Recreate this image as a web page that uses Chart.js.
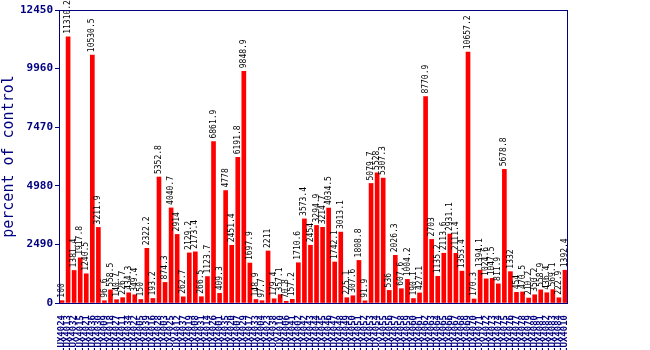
<!DOCTYPE html>
<html>
<head>
<meta charset="utf-8">
<script src="https://cdn.jsdelivr.net/npm/chart.js@4"></script>
<style>
  body { margin: 0; background: #fff; }
</style>
</head>
<body>
<canvas id="controlChart" width="650" height="350"></canvas>
<script>
// data
const sampleLabels = [
  "LUX4024","LUX4013","LUX4032","LUX4015","LUX4021","LUX4036","LUX4030","LUX4009",
  "LUX4018","LUX4027","LUX4011","LUX4034","LUX4022","LUX4005","LUX4039","LUX4016",
  "LUX4028","LUX4003","LUX4025","LUX4012","LUX4037","LUX4019","LUX4008","LUX4031",
  "LUX4014","LUX4026","LUX4001","LUX4035","LUX4020","LUX4007","LUX4029","LUX4017",
  "LUX4033","LUX4004","LUX4023","LUX4038","LUX4010","LUX4006","LUX4041","LUX4002",
  "LUX4042","LUX4043","LUX4044","LUX4045","LUX4046","LUX4047","LUX4048","LUX4049",
  "LUX4050","LUX4051","LUX4052","LUX4053","LUX4054","LUX4055","LUX4056","LUX4057",
  "LUX4058","LUX4059","LUX4060","LUX4061","LUX4062","LUX4063","LUX4064","LUX4065",
  "LUX4066","LUX4067","LUX4068","LUX4069","LUX4070","LUX4071","LUX4072","LUX4073",
  "LUX4074","LUX4075","LUX4076","LUX4077","LUX4078","LUX4079","LUX4080","LUX4081",
  "LUX4082","LUX4083","LUX4084","LUX4010"
];

const percentValues = [
  100, 11310.2, 1381.4, 1917.8, 1240.5, 10530.5, 3211.9, 96.6,
  558.5, 140.7, 226.7, 434.3, 349.4, 150, 2322.2, 193.2,
  5352.8, 874.3, 4040.7, 2914, 262.7, 2129.2, 2173.4, 266.5,
  1123.7, 6861.9, 409.3, 4778, 2451.4, 6191.8, 9848.9, 1697.9,
  148.9, 97.7, 2211, 179.4, 357.1, 70.8, 157.2, 1710.6,
  3573.4, 2454, 3294.9, 3214.7, 4034.5, 1742.1, 3013.1, 225.1,
  307.6, 1808.8, 91.9, 5079.7, 5528, 5307.3, 536, 2026.3,
  607.6, 1004.2, 190.1, 427.1, 8770.9, 2703, 1135.2, 2113.6,
  2931.1, 2111.4, 1353.4, 10657.2, 170.3, 1394.1, 1024.6, 1047.5,
  811.9, 5678.8, 1332, 454, 470.5, 210.2, 350.2, 558.9,
  436.4, 569.1, 222.9, 1392.4
];

const yTicks = [0, 2490, 4980, 7470, 9960, 12450];

const navy = "#000080";

// value text above every bar
const barValueLabels = {
  id: "barValueLabels",
  afterDatasetsDraw(chart) {
    const ctx = chart.ctx;
    const meta = chart.getDatasetMeta(0);
    ctx.save();
    ctx.font = "8px 'DejaVu Sans Mono'";
    ctx.fillStyle = "#000";
    ctx.textAlign = "left";
    ctx.textBaseline = "middle";
    meta.data.forEach((bar, i) => {
      ctx.save();
      ctx.translate(bar.x, bar.y - 3);
      ctx.rotate(-Math.PI / 2);
      ctx.fillText(String(percentValues[i]), 0, 0);
      ctx.restore();
    });
    ctx.restore();
  }
};

// box round the plot
const plotBox = {
  id: "plotBox",
  afterDraw(chart) {
    const a = chart.chartArea;
    const ctx = chart.ctx;
    ctx.save();
    ctx.strokeStyle = navy;
    ctx.lineWidth = 1;
    ctx.strokeRect(a.left + 0.5, a.top + 0.5, a.right - a.left - 1, a.bottom - a.top);
    ctx.restore();
  }
};

new Chart(document.getElementById("controlChart"), {
  type: "bar",
  data: {
    labels: sampleLabels,
    datasets: [
      {
        data: percentValues,
        backgroundColor: "#ff0000",
        barThickness: 4,
      },
    ],
  },
  options: {
    responsive: false,
    animation: false,
    layout: { padding: { top: 10, right: 82, left: 0, bottom: 0 } },
    plugins: {
      legend: { display: false },
      tooltip: { enabled: false },
    },
    scales: {
      x: {
        grid: { display: false },
        border: { display: false },
        ticks: {
          autoSkip: false,
          maxRotation: 90,
          minRotation: 90,
          padding: 4,
          color: navy,
          font: { family: "'DejaVu Sans Mono'", size: 9, weight: "bold" },
        },
        afterFit(scale) {
          scale.height = 47;
        },
      },
      y: {
        min: 0,
        max: 12450,
        afterBuildTicks(scale) {
          scale.ticks = yTicks.map((v) => ({ value: v }));
        },
        grid: {
          display: true,
          drawOnChartArea: false,
          drawTicks: true,
          tickLength: 4,
          color: navy,
        },
        border: { display: false },
        ticks: {
          padding: 2,
          color: navy,
          font: { family: "'DejaVu Sans Mono'", size: 11, weight: "bold" },
          callback: (value) => String(value),
        },
        title: {
          display: true,
          text: "percent of control",
          color: navy,
          padding: 0,
          font: { family: "'DejaVu Sans Mono'", size: 15 },
        },
        afterFit(scale) {
          scale.width = 59;
        },
      },
    },
  },
  plugins: [barValueLabels, plotBox],
});
</script>
</body>
</html>
